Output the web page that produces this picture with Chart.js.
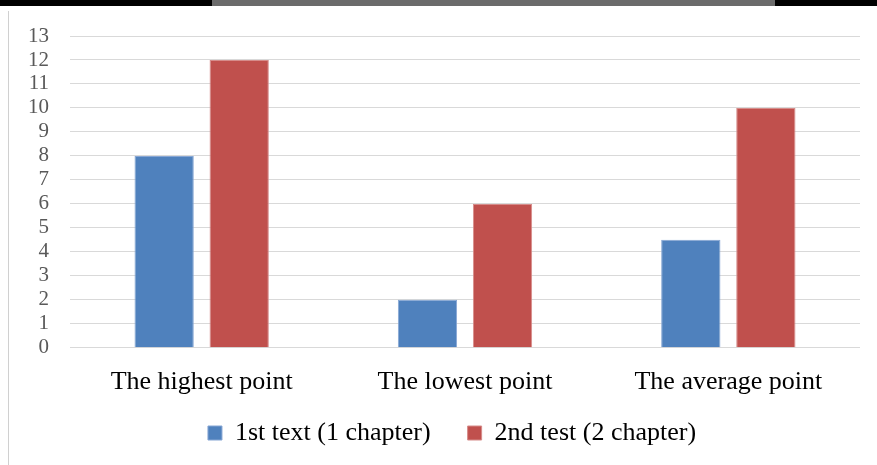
<!DOCTYPE html>
<html>
<head>
<meta charset="utf-8">
<script src="https://cdn.jsdelivr.net/npm/chart.js@4"></script>
<style>
  html, body { margin: 0; padding: 0; background: #fff; }
  #wrap { position: relative; width: 877px; height: 465px; overflow: hidden; }
  #topline { position: absolute; left: 0; top: 0; width: 877px; height: 6px; background: #000; }
  #scan { position: absolute; left: 212px; top: 0; width: 563px; height: 6px; background: #6b6b6b; }
  #frame { position: absolute; left: 8px; top: 11px; width: 1px; height: 460px; background: #d0d0d0; }
  #box { position: absolute; left: 0; top: 0; width: 877px; height: 465px; }
</style>
</head>
<body>
<div id="wrap">
  <div id="box"><canvas id="grafico"></canvas></div>
  <div id="topline"></div>
  <div id="scan"></div>
  <div id="frame"></div>
</div>
<script>
const categorias = ['The highest point', 'The lowest point', 'The average point'];
const primerTexto = [8, 2, 4.5];
const segundoTest = [12, 6, 10];
const serieNombres = ['1st text (1 chapter)', '2nd test (2 chapter)'];

const fuente = "'Liberation Serif', 'Times New Roman', serif";

// mueve la leyenda un poco (x, y) despues del layout
const moverLeyenda = {
    id: 'moverLeyenda',
    afterLayout(chart) {
        const l = chart.legend;
        l.left += 18; l.right += 18;
        l.top -= 26; l.bottom -= 26;
    }
};

const ctx = document.getElementById('grafico').getContext('2d');

const chart = new Chart(ctx, {
    type: 'bar',
    data: {
        labels: categorias,
        datasets: [
            {
                label: serieNombres[0],
                data: primerTexto,
                backgroundColor: '#4f81bd',
                borderColor: '#86a6d4',
                borderWidth: 1,
            },
            {
                label: serieNombres[1],
                data: segundoTest,
                backgroundColor: '#c0504d',
                borderColor: '#d68c8a',
                borderWidth: 1,
            }
        ]
    },
    plugins: [moverLeyenda],
    options: {
        responsive: true,
        maintainAspectRatio: false,
        animation: false,
        categoryPercentage: 0.57,
        barPercentage: 0.79,
        layout: {
            padding: { left: 8, right: 17, top: 36, bottom: -17 }
        },
        plugins: {
            tooltip: { enabled: false },
            legend: {
                position: 'bottom',
                labels: {
                    boxWidth: 14,
                    boxHeight: 14,
                    padding: 37,
                    color: '#000',
                    font: { family: fuente, size: 26 }
                }
            }
        },
        scales: {
            x: {
                grid: { display: false },
                border: { display: false },
                ticks: {
                    color: '#000',
                    padding: 11,
                    font: { family: fuente, size: 26 }
                }
            },
            y: {
                min: 0,
                max: 13,
                afterFit: (scale) => { scale.width = 62; },
                grid: { color: '#d9d9d9', lineWidth: 1, drawTicks: false },
                border: { display: false },
                ticks: {
                    stepSize: 1,
                    autoSkip: false,
                    color: '#595959',
                    padding: 21,
                    font: { family: fuente, size: 21 }
                }
            }
        }
    }
});
</script>
</body>
</html>
